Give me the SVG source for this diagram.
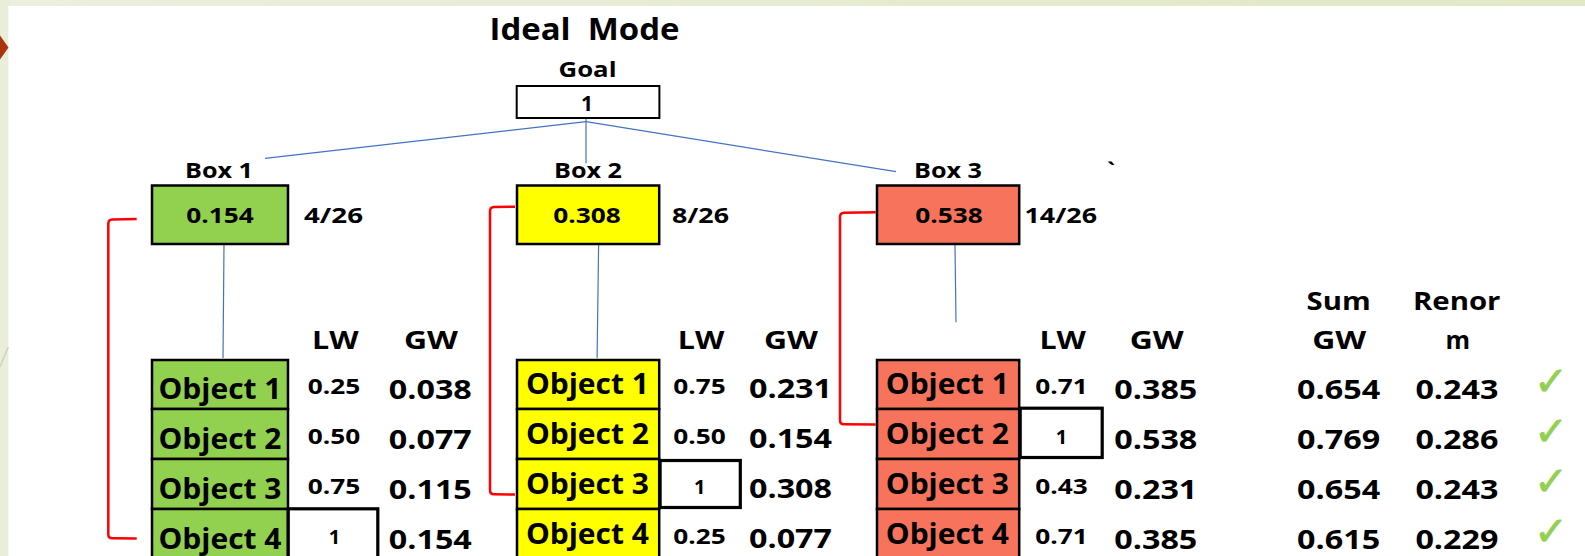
<svg xmlns="http://www.w3.org/2000/svg" width="1585" height="556" viewBox="0 0 1585 556">
  <style>
    text { font-family: "Open Sans", "Liberation Sans", sans-serif; font-weight: bold; fill: #000; }
    .c { text-anchor: middle; }
    .s { text-anchor: start; }
    .t30 { font-size: 30px; }
    .t22 { font-size: 22px; }
    .t25 { font-size: 25px; }
    .t28 { font-size: 28px; }
    .t26 { font-size: 26.5px; }
    .t20 { font-size: 20px; }
    .cell { stroke: #000; stroke-width: 2.5; }
    .g { fill: #92d050; }
    .y { fill: #ffff00; }
    .r { fill: #f8735c; }
    .hl { fill: none; stroke: #000; stroke-width: 3.2; }
    .blue { stroke: #4472c4; stroke-width: 1.2; fill: none; }
    .red { stroke: #ff0000; stroke-width: 2.5; fill: none; stroke-linejoin: round; }
    .chk { font-family: "DejaVu Sans", sans-serif; font-weight: bold; font-size: 40px; fill: #92d050; stroke: #92d050; stroke-width: 0.8; text-anchor: middle; }
  </style>
  <defs>
    <linearGradient id="band" x1="0" y1="0" x2="1" y2="0">
      <stop offset="0" stop-color="#eaf0dc"/>
      <stop offset="1" stop-color="#e0e8c6"/>
    </linearGradient>
  </defs>

  <g id="background">
    <rect x="0" y="0" width="1585" height="556" fill="#ffffff"/>
    <rect x="0" y="0" width="1585" height="6" fill="url(#band)"/>
    <rect x="0" y="0" width="8.3" height="556" fill="#e8eed7"/>
    <polygon points="0,35.5 8.5,47.5 0,59.5" fill="#a9340f"/>
    <line x1="0" y1="366.7" x2="8.3" y2="346.7" stroke="#cfd2c4" stroke-width="1.5"/>
  </g>

  <g id="title">
    <text class="c t30" x="584.5" y="40" textLength="190" lengthAdjust="spacingAndGlyphs" xml:space="preserve">Ideal  Mode</text>
  </g>

  <g id="connectors">
    <line class="blue" x1="586" y1="121.7" x2="265" y2="158.3"/>
    <line class="blue" x1="586" y1="117" x2="586" y2="163.3"/>
    <line class="blue" x1="586" y1="121.7" x2="896" y2="171.7"/>
    <line class="blue" x1="224" y1="245" x2="223" y2="358"/>
    <line class="blue" x1="598.6" y1="245" x2="597.1" y2="358"/>
    <line class="blue" x1="955" y1="245" x2="956" y2="322.3"/>
    <path class="red" d="M136.7,219 L112.3,219.4 Q108.3,219.6 108.3,223.6 L108.3,534.3 Q108.3,538.3 112.3,538.3 L136.7,538.6"/>
    <path class="red" d="M515,206.7 L494,207 Q490,207.2 490,211.2 L490,490.3 Q490,494.3 494,494.3 L515,494.6"/>
    <path class="red" d="M875.7,212.3 L844,212.8 Q840,213 840,217 L840,420.3 Q840,424.3 844,424.3 L875.7,424.6"/>
  </g>

  <g id="goal">
    <text class="c t22" x="587.5" y="77.3" textLength="58" lengthAdjust="spacingAndGlyphs">Goal</text>
    <rect x="516.7" y="86" width="142.7" height="32" fill="#ffffff" stroke="#000" stroke-width="2"/>
    <text class="c" style="font-size:21px" x="587" y="111">1</text>
  </g>

  <g id="box1">
    <text class="c t22" x="219" y="178" textLength="68" lengthAdjust="spacingAndGlyphs">Box 1</text>
    <rect class="cell g" x="152" y="185.5" width="136" height="58.5"/>
    <text class="c t22" x="220" y="223" textLength="67.5" lengthAdjust="spacingAndGlyphs">0.154</text>
    <text class="s t22" x="304" y="223" textLength="59" lengthAdjust="spacingAndGlyphs">4/26</text>
  </g>

  <g id="box2">
    <text class="c t22" x="588" y="178" textLength="68" lengthAdjust="spacingAndGlyphs">Box 2</text>
    <rect class="cell y" x="517" y="185.5" width="142.2" height="58.5"/>
    <text class="c t22" x="587" y="223" textLength="67.5" lengthAdjust="spacingAndGlyphs">0.308</text>
    <text class="s t22" x="672" y="223" textLength="57" lengthAdjust="spacingAndGlyphs">8/26</text>
  </g>

  <g id="box3">
    <text class="c t22" x="948" y="178" textLength="68" lengthAdjust="spacingAndGlyphs">Box 3</text>
    <rect class="cell r" x="877" y="185.5" width="142.2" height="58.5"/>
    <text class="c t22" x="949" y="223" textLength="67.5" lengthAdjust="spacingAndGlyphs">0.538</text>
    <text class="s t22" x="1024.5" y="223" textLength="72.5" lengthAdjust="spacingAndGlyphs">14/26</text>
  </g>

  <text class="c t22" x="1111" y="178">`</text>

  <g id="headers">
    <text class="c t25" x="335.3" y="349" textLength="46.5" lengthAdjust="spacingAndGlyphs">LW</text>
    <text class="c t25" x="431" y="349" textLength="54" lengthAdjust="spacingAndGlyphs">GW</text>
    <text class="c t25" x="701" y="349" textLength="46.5" lengthAdjust="spacingAndGlyphs">LW</text>
    <text class="c t25" x="791" y="349" textLength="54" lengthAdjust="spacingAndGlyphs">GW</text>
    <text class="c t25" x="1062.7" y="349" textLength="46.5" lengthAdjust="spacingAndGlyphs">LW</text>
    <text class="c t25" x="1156.7" y="349" textLength="54" lengthAdjust="spacingAndGlyphs">GW</text>
    <text class="c t25" x="1338.6" y="310" textLength="64" lengthAdjust="spacingAndGlyphs">Sum</text>
    <text class="c t25" x="1339.2" y="349" textLength="54" lengthAdjust="spacingAndGlyphs">GW</text>
    <text class="c t25" x="1456.7" y="310" textLength="87.5" lengthAdjust="spacingAndGlyphs">Renor</text>
    <text class="c t25" x="1457.8" y="349">m</text>
  </g>

  <g id="box1-objects">
    <g id="b1-object1"><rect class="cell g" x="152" y="360" width="136" height="49"/><text class="c t28" x="220" y="399.3" textLength="123" lengthAdjust="spacingAndGlyphs">Object 1</text></g>
    <g id="b1-object2"><rect class="cell g" x="152" y="409" width="136" height="50"/><text class="c t28" x="220" y="449.3" textLength="123" lengthAdjust="spacingAndGlyphs">Object 2</text></g>
    <g id="b1-object3"><rect class="cell g" x="152" y="459" width="136" height="50"/><text class="c t28" x="220" y="499.3" textLength="123" lengthAdjust="spacingAndGlyphs">Object 3</text></g>
    <g id="b1-object4"><rect class="cell g" x="152" y="509" width="136" height="60"/><text class="c t28" x="220" y="549.3" textLength="123" lengthAdjust="spacingAndGlyphs">Object 4</text></g>
  </g>

  <g id="box2-objects">
    <g id="b2-object1"><rect class="cell y" x="517" y="360" width="142.2" height="49"/><text class="c t28" x="587.4" y="394" textLength="123" lengthAdjust="spacingAndGlyphs">Object 1</text></g>
    <g id="b2-object2"><rect class="cell y" x="517" y="409" width="142.2" height="50"/><text class="c t28" x="587.4" y="444" textLength="123" lengthAdjust="spacingAndGlyphs">Object 2</text></g>
    <g id="b2-object3"><rect class="cell y" x="517" y="459" width="142.2" height="50"/><text class="c t28" x="587.4" y="494" textLength="123" lengthAdjust="spacingAndGlyphs">Object 3</text></g>
    <g id="b2-object4"><rect class="cell y" x="517" y="509" width="142.2" height="60"/><text class="c t28" x="587.4" y="544" textLength="123" lengthAdjust="spacingAndGlyphs">Object 4</text></g>
  </g>

  <g id="box3-objects">
    <g id="b3-object1"><rect class="cell r" x="877" y="360" width="142.2" height="49"/><text class="c t28" x="947.3" y="394" textLength="123" lengthAdjust="spacingAndGlyphs">Object 1</text></g>
    <g id="b3-object2"><rect class="cell r" x="877" y="409" width="142.2" height="50"/><text class="c t28" x="947.3" y="444" textLength="123" lengthAdjust="spacingAndGlyphs">Object 2</text></g>
    <g id="b3-object3"><rect class="cell r" x="877" y="459" width="142.2" height="50"/><text class="c t28" x="947.3" y="494" textLength="123" lengthAdjust="spacingAndGlyphs">Object 3</text></g>
    <g id="b3-object4"><rect class="cell r" x="877" y="509" width="142.2" height="60"/><text class="c t28" x="947.3" y="544" textLength="123" lengthAdjust="spacingAndGlyphs">Object 4</text></g>
  </g>

  <g id="highlights">
    <rect class="hl" x="288.2" y="508.8" width="89.6" height="60"/>
    <rect class="hl" x="660.1" y="460.5" width="80.2" height="47"/>
    <rect class="hl" x="1020.2" y="408.2" width="82" height="49.3"/>
  </g>

  <g id="lw-values">
    <text class="c t22" x="334" y="394.3" textLength="52.5" lengthAdjust="spacingAndGlyphs">0.25</text>
    <text class="c t22" x="334" y="444" textLength="52.5" lengthAdjust="spacingAndGlyphs">0.50</text>
    <text class="c t22" x="334" y="494" textLength="52.5" lengthAdjust="spacingAndGlyphs">0.75</text>
    <text class="c t20" x="334.5" y="543.5">1</text>
    <text class="c t22" x="699.6" y="394.3" textLength="52.5" lengthAdjust="spacingAndGlyphs">0.75</text>
    <text class="c t22" x="699.6" y="444" textLength="52.5" lengthAdjust="spacingAndGlyphs">0.50</text>
    <text class="c t20" x="699.6" y="493.5">1</text>
    <text class="c t22" x="699.6" y="544" textLength="52.5" lengthAdjust="spacingAndGlyphs">0.25</text>
    <text class="c t22" x="1061.5" y="394.3" textLength="52.5" lengthAdjust="spacingAndGlyphs">0.71</text>
    <text class="c t20" x="1061.5" y="443.5">1</text>
    <text class="c t22" x="1061.5" y="493.5" textLength="52.5" lengthAdjust="spacingAndGlyphs">0.43</text>
    <text class="c t22" x="1061.5" y="543.5" textLength="52.5" lengthAdjust="spacingAndGlyphs">0.71</text>
  </g>

  <g id="gw-values">
    <text class="c t26" x="430.3" y="399" textLength="83" lengthAdjust="spacingAndGlyphs">0.038</text>
    <text class="c t26" x="430.3" y="449" textLength="83" lengthAdjust="spacingAndGlyphs">0.077</text>
    <text class="c t26" x="430.3" y="499" textLength="83" lengthAdjust="spacingAndGlyphs">0.115</text>
    <text class="c t26" x="430.3" y="549" textLength="83" lengthAdjust="spacingAndGlyphs">0.154</text>
    <text class="c t26" x="790.5" y="398.3" textLength="83" lengthAdjust="spacingAndGlyphs">0.231</text>
    <text class="c t26" x="790.5" y="448.3" textLength="83" lengthAdjust="spacingAndGlyphs">0.154</text>
    <text class="c t26" x="790.5" y="498.3" textLength="83" lengthAdjust="spacingAndGlyphs">0.308</text>
    <text class="c t26" x="790.5" y="548.3" textLength="83" lengthAdjust="spacingAndGlyphs">0.077</text>
    <text class="c t26" x="1155.8" y="399" textLength="83" lengthAdjust="spacingAndGlyphs">0.385</text>
    <text class="c t26" x="1155.8" y="449" textLength="83" lengthAdjust="spacingAndGlyphs">0.538</text>
    <text class="c t26" x="1155.8" y="499" textLength="83" lengthAdjust="spacingAndGlyphs">0.231</text>
    <text class="c t26" x="1155.8" y="548.5" textLength="83" lengthAdjust="spacingAndGlyphs">0.385</text>
  </g>

  <g id="sum-renorm">
    <text class="c t26" x="1338.6" y="399" textLength="83" lengthAdjust="spacingAndGlyphs">0.654</text>
    <text class="c t26" x="1338.6" y="449" textLength="83" lengthAdjust="spacingAndGlyphs">0.769</text>
    <text class="c t26" x="1338.6" y="499" textLength="83" lengthAdjust="spacingAndGlyphs">0.654</text>
    <text class="c t26" x="1338.6" y="548.5" textLength="83" lengthAdjust="spacingAndGlyphs">0.615</text>
    <text class="c t26" x="1456.9" y="399" textLength="83" lengthAdjust="spacingAndGlyphs">0.243</text>
    <text class="c t26" x="1456.9" y="449" textLength="83" lengthAdjust="spacingAndGlyphs">0.286</text>
    <text class="c t26" x="1456.9" y="499" textLength="83" lengthAdjust="spacingAndGlyphs">0.243</text>
    <text class="c t26" x="1456.9" y="548.5" textLength="83" lengthAdjust="spacingAndGlyphs">0.229</text>
  </g>

  <g id="checks">
    <text class="chk" x="1551" y="395" textLength="34" lengthAdjust="spacingAndGlyphs">✓</text>
    <text class="chk" x="1551" y="445" textLength="34" lengthAdjust="spacingAndGlyphs">✓</text>
    <text class="chk" x="1551" y="495" textLength="34" lengthAdjust="spacingAndGlyphs">✓</text>
    <text class="chk" x="1551" y="545" textLength="34" lengthAdjust="spacingAndGlyphs">✓</text>
  </g>
</svg>
